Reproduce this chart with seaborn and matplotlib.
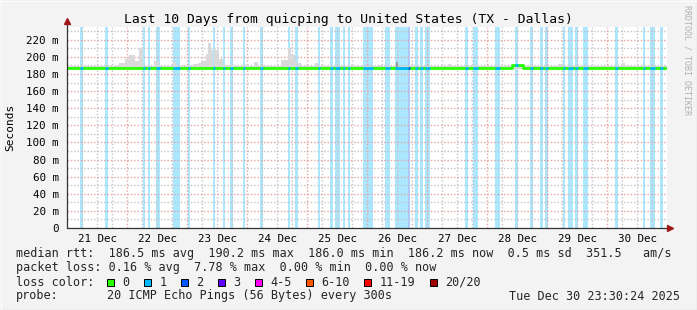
import numpy as np
import matplotlib
matplotlib.use("Agg")
import matplotlib.pyplot as plt
import matplotlib.colors as mcolors
from matplotlib.lines import Line2D
from matplotlib.patches import Rectangle
import seaborn as sns

# ---------------- data ----------------
title = "Last 10 Days from quicping to United States (TX - Dallas)"
day_labels = ["21 Dec", "22 Dec", "23 Dec", "24 Dec", "25 Dec",
              "26 Dec", "27 Dec", "28 Dec", "29 Dec", "30 Dec"]
y_tick_values = [0, 20, 40, 60, 80, 100, 120, 140, 160, 180, 200, 220]

# hours since 21 Dec 00:00
median_t = [0.0, 178.0, 182.4, 240.0]
median_v = [186.5, 191.0, 186.5, 186.5]

loss_start = [5.2, 15.2, 30.4, 32.4, 35.5, 42.3, 48.3, 58.4, 62.4, 65.2, 70.3,
              77.2, 88.4, 91.2, 100.4, 105.2, 107.2, 110.4, 112.4, 118.4, 127.2,
              131.2, 136.5, 139.2, 141.2, 143.2, 159.2, 162.4, 171.2, 179.2,
              185.2, 189.2, 191.2, 198.4, 200.4, 203.2, 206.4, 219.2, 230.4,
              233.2, 237.2]
loss_end = [6.4, 16.4, 31.2, 33.2, 37.1, 45.2, 49.1, 59.2, 63.2, 66.4, 71.1,
            78.4, 89.2, 92.4, 101.2, 106.4, 109.2, 111.2, 113.2, 122.4, 129.2,
            136.5, 137.2, 140.4, 142.4, 145.2, 160.4, 164.4, 173.2, 180.4,
            186.4, 190.4, 192.4, 199.2, 202.4, 204.4, 208.4, 220.4, 231.2,
            235.2, 238.4]
loss_pings = [1] * 22 + [2] + [1] * 18

smoke_start = [20.9, 23.3, 24.7, 27.3, 28.9, 34.8, 42.3, 45.6, 50.3, 52.3, 53.6,
               55.6, 56.3, 56.9, 58.8, 60.7, 62.4, 71.6, 74.8, 78.4, 85.6, 86.4,
               88.4, 89.7, 91.2, 92.4, 99.1, 114.4, 124.4, 152.4, 196.4, 222.0]
smoke_end = [23.6, 24.7, 27.3, 28.9, 30.5, 36.8, 43.6, 46.8, 52.3, 53.6, 55.6,
             56.9, 57.6, 58.3, 60.7, 62.5, 66.3, 72.8, 76.4, 79.6, 86.4, 88.4,
             89.7, 91.1, 92.0, 93.6, 100.4, 115.6, 125.6, 153.6, 197.4, 223.0]
smoke_top = [192.6, 197.7, 202.3, 195.0, 211.0, 195.0, 194.5, 191.0, 192.0, 193.0,
             195.0, 203.0, 216.0, 208.0, 208.0, 198.0, 191.0, 192.0, 194.5, 191.0,
             196.0, 197.0, 210.0, 202.0, 195.0, 193.0, 193.0, 191.0, 191.0, 192.0,
             192.0, 193.0]
dark_smoke_start = [131.4]
dark_smoke_end = [132.2]
dark_smoke_top = [194.0]

loss_legend_labels = ["0", "1", "2", "3", "4-5", "6-10", "11-19", "20/20"]
loss_legend_colors = ["#26ff00", "#00b8ff", "#0059ff", "#5e00ff",
                      "#ff00f7", "#ff5500", "#ff0000", "#a10000"]
loss_color_by_pings = {0: "#26ff00", 1: "#00b8ff", 2: "#0059ff", 3: "#5e00ff"}

row_median = "median rtt:  186.5 ms avg  190.2 ms max  186.0 ms min  186.2 ms now  0.5 ms sd  351.5   am/s"
row_loss = "packet loss: 0.16 % avg  7.78 % max  0.00 % min  0.00 % now"
row_color = "loss color:"
row_probe_head = "probe:"
row_probe = "20 ICMP Echo Pings (56 Bytes) every 300s"
row_date = "Tue Dec 30 23:30:24 2025"
watermark = "RRDTOOL / TOBI OETIKER"

# ---------------- drawing ----------------
sns.set_theme(style="white")
plt.rcParams["font.family"] = ["DejaVu Sans Mono", "DejaVu Sans"]

W, H = 697, 310
fig = plt.figure(figsize=(W / 100, H / 100), dpi=100, facecolor="#f3f3f3")


def fx(x):
    return x / W


def fy(y):
    return 1 - y / H


ax = fig.add_axes([fx(67), fy(228), 600 / W, (228 - 27) / H])
ax.set_facecolor("white")
ax.set_xlim(0, 240)
ax.set_ylim(0, 235)


def light(c, a=0.33):
    r, g, b = mcolors.to_rgb(c)
    return (1 - a + a * r, 1 - a + a * g, 1 - a + a * b)


# loss bars
for s, e, n in zip(loss_start, loss_end, loss_pings):
    ax.axvspan(s, e, color=light(loss_color_by_pings[n]), lw=0, zorder=1)

# grid
dot = (0, (1, 1.4))
glw = 1.0
minor_y = [v for v in range(10, 235, 10) if v not in y_tick_values]
for v in minor_y:
    ax.axhline(v, color="#c4c4c4", lw=glw, ls=dot, zorder=2)
minor_x = [h for h in range(6, 240, 6) if h % 24 != 0]
for h in minor_x:
    ax.axvline(h, color="#c4c4c4", lw=glw, ls=dot, zorder=2)
for v in y_tick_values[1:]:
    ax.axhline(v, color="#e6a2a2", lw=glw, ls=dot, zorder=2.1)
for h in range(24, 240, 24):
    ax.axvline(h, color="#e6a2a2", lw=glw, ls=dot, zorder=2.1)

# smoke
ax.fill_between([0, 240], 185.6, 189.0, color="#d6d6d6", lw=0, zorder=3)
for s, e, t in zip(smoke_start, smoke_end, smoke_top):
    ax.fill_between([s, e], 188.0, t, color="#d9d9d9", lw=0, zorder=3)
for s, e, t in zip(dark_smoke_start, dark_smoke_end, dark_smoke_top):
    ax.fill_between([s, e], 187.0, t, color="#9a9a9a", lw=0, zorder=3.1)

# median line
sns.lineplot(x=median_t, y=median_v, drawstyle="steps-post", color="#26ff00",
             lw=2.0, ax=ax, zorder=5)
mt = np.array(median_t)
for s, e, n in zip(loss_start, loss_end, loss_pings):
    idx = max(np.searchsorted(mt, s, side="right") - 1, 0)
    v = median_v[idx]
    ax.plot([s, e], [v, v], color=loss_color_by_pings[n], lw=2.0,
            solid_capstyle="butt", zorder=6)

# ticks
ax.set_yticks(y_tick_values)
ax.set_yticklabels(["0" if v == 0 else f"{v} m" for v in y_tick_values])
ax.set_xticks([12 + 24 * i for i in range(len(day_labels))])
ax.set_xticklabels(day_labels)
ax.tick_params(axis="x", length=0, pad=4, labelsize=7.8, colors="black")
ax.tick_params(axis="y", length=2, width=0.7, pad=4, labelsize=7.8,
               colors="black", color="#444444")
ax.set_xlabel("")
ax.set_ylabel("")
for sp in ax.spines.values():
    sp.set_visible(False)

# axes lines with arrows
fig.add_artist(Line2D([fx(67), fx(667)], [fy(228), fy(228)], color="#333333",
                      lw=0.9, transform=fig.transFigure))
fig.add_artist(Line2D([fx(67), fx(67)], [fy(228), fy(24)], color="#333333",
                      lw=0.9, transform=fig.transFigure))
fig.add_artist(Line2D([fx(67) - 0.0005], [fy(21)], marker="^", ms=5,
                      color="#a01818", lw=0, transform=fig.transFigure))
fig.add_artist(Line2D([fx(670)], [fy(228)], marker=">", ms=5,
                      color="#a01818", lw=0, transform=fig.transFigure))

# texts
fig.text(fx(348), fy(19), title, ha="center", va="center", fontsize=9.4,
         color="black")
fig.text(fx(10), fy(127), "Seconds", rotation=90, ha="center", va="center",
         fontsize=8, color="black")
fig.text(fx(687), fy(60), watermark, rotation=270, ha="center", va="center",
         fontsize=6, color="#b0b0b0")

leg_fs = 8.5
fig.text(fx(16), fy(254), row_median, ha="left", va="center", fontsize=leg_fs)
fig.text(fx(16), fy(268), row_loss, ha="left", va="center", fontsize=leg_fs)
fig.text(fx(16), fy(282), row_color, ha="left", va="center", fontsize=leg_fs)
fig.text(fx(16), fy(296), row_probe_head, ha="left", va="center", fontsize=leg_fs)
fig.text(fx(107), fy(296), row_probe, ha="left", va="center", fontsize=leg_fs)
fig.text(fx(680), fy(296), row_date, ha="right", va="center", fontsize=leg_fs)

char_w = 7.1
bx = 107.3
for lab, col in zip(loss_legend_labels, loss_legend_colors):
    fig.add_artist(Rectangle((fx(bx), fy(285.5)), 7 / W, 7 / H,
                             transform=fig.transFigure, facecolor=col,
                             edgecolor="black", lw=0.7))
    fig.text(fx(bx + 15), fy(282), lab, ha="left", va="center", fontsize=leg_fs)
    bx += (len(lab) + 4.2) * char_w

# outer frame
fig.add_artist(Line2D([0, 1], [fy(309.5), fy(309.5)], color="#9a9a9a", lw=0.8,
                      transform=fig.transFigure))
fig.add_artist(Line2D([fx(696.5), fx(696.5)], [0, 1], color="#9a9a9a", lw=0.8,
                      transform=fig.transFigure))
fig.add_artist(Line2D([0, 1], [fy(0.5), fy(0.5)], color="#fcfcfc", lw=0.8,
                      transform=fig.transFigure))
fig.add_artist(Line2D([fx(0.5), fx(0.5)], [0, 1], color="#fcfcfc", lw=0.8,
                      transform=fig.transFigure))

fig.savefig("out.png", dpi=100, facecolor=fig.get_facecolor())
